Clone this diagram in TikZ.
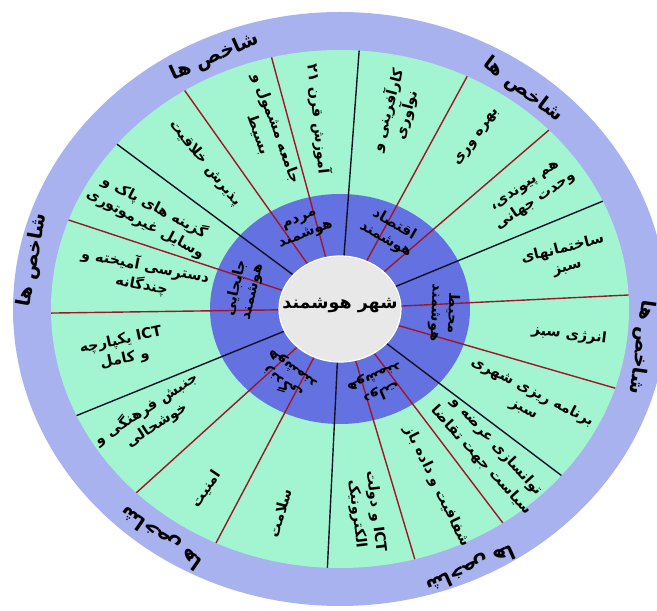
\documentclass[tikz,border=0pt]{standalone}
\usepackage{fontspec}
\usetikzlibrary{calc}
\newfontfamily\fa[Script=Arabic]{DejaVu Sans}
\TeXXeTstate=1
\newcommand\rtl[1]{\beginR#1\endR}
\definecolor{lav}{RGB}{168,178,238}
\definecolor{mint}{RGB}{162,245,208}
\definecolor{blu}{RGB}{100,114,225}
\definecolor{core}{RGB}{232,232,232}
\definecolor{dred}{RGB}{158,22,42}
\definecolor{dblk}{RGB}{18,18,38}
\tikzset{
  spoke/.style={line width=1.4pt},
  sect/.style={font=\fa\bfseries\fontsize{14.5}{19}\selectfont, align=center, inner sep=0pt},
  ringlbl/.style={font=\fa\bfseries\fontsize{14.5}{17}\selectfont, align=center, inner sep=0pt},
  outerlbl/.style={font=\fa\bfseries\fontsize{19.5}{22}\selectfont, inner sep=0pt},
  corelbl/.style={font=\fa\bfseries\fontsize{17.5}{20}\selectfont, inner sep=0pt},
}
\begin{document}
\begin{tikzpicture}[x=1pt,y=1pt]
\useasboundingbox (0,0) rectangle (657,611);
\coordinate (C) at (340,302);
\begin{scope}
  \clip (0,0) rectangle (657,611);
  \fill[lav] (C) ellipse [x radius=327pt, y radius=297pt];
\end{scope}
\fill[mint] (C) ellipse [x radius=289pt, y radius=259pt];
\fill[blu] (C) ellipse [x radius=130pt, y radius=115pt];
\foreach \a/\c [count=\i] in {86.2/dblk,63.9/dred,43.7/dred,24.6/dblk,3.1/dred,-17.8/dred,-40/dblk,-55.7/dred,-75/dred,-92.5/dblk,-115.4/dred,-134.8/dred,-155.7/dblk,-179.1/dred,159.9/dred,140.5/dblk,122.5/dred,103.7/dred}{
  \path (C) ++(\a:289pt and 259pt) coordinate (out\i);
  \path (C) ++(\a:50pt and 44pt) coordinate (in\i);
  \draw[spoke,\c] (in\i) -- (out\i);
}
\fill[core, draw=white, line width=1.2pt] (C) ellipse [x radius=61pt, y radius=53pt];
\node[corelbl] (core) at (340,305) {\rtl{شهر هوشمند}};

% sector texts
\node[sect, rotate=-84] (ta) at ($(C)+(95.8:214pt and 191pt)$) {\rtl{آموزش قرن \beginL۲۱\endL}};
\node[sect, rotate=-70] (tb) at ($(C)+(110:212pt and 189pt)$) {\rtl{جامعه مشمول و}\\\rtl{بسیط}};
\node[sect, rotate=-51] (tc) at ($(C)+(129.5:212pt and 189pt)$) {\rtl{پذیرش خلاقیت}};
\node[sect, rotate=-28] (td) at ($(C)+(151:217pt and 194pt)$) {\rtl{گزینه های پاک و}\\\rtl{وسایل غیرموتوری}};
\node[sect, rotate=-11] (te) at ($(C)+(169:200pt and 178pt)$) {\rtl{دسترسی آمیخته و}\\\rtl{چندگانه}};
\node[sect, rotate=12] (tf) at ($(C)+(191.9:222pt and 198pt)$) {\rtl{\beginL ICT\endL{} یکپارچه}\\\rtl{و کامل}};
\node[sect, rotate=33] (tg) at ($(C)+(212.5:224pt and 200pt)$) {\rtl{جنبش فرهنگی و}\\\rtl{خوشحالی}};
\node[sect, rotate=56] (th) at ($(C)+(236.5:242pt and 216pt)$) {\rtl{امنیت}};
\node[sect, rotate=75] (ti) at ($(C)+(255.3:236pt and 211pt)$) {\rtl{سلامت}};
\node[sect, rotate=-83] (tj) at ($(C)+(-83.5:230pt and 205pt)$) {\rtl{\beginL ICT\endL{} و دولت}\\\rtl{الکترونیک}};
\node[sect, rotate=-64] (tk) at ($(C)+(-64:221pt and 197pt)$) {\rtl{شفافیت و داده باز}};
\node[sect, rotate=-47.5, font=\fa\bfseries\fontsize{14.5}{21}\selectfont] (tl) at ($(C)+(-47.5:220pt and 196pt)$) {\rtl{توانسازی عرضه و}\\\rtl{سیاست جهت تقاضا}};
\node[sect, rotate=-27] (tm) at ($(C)+(-28.5:214pt and 191pt)$) {\rtl{برنامه ریزی شهری}\\\rtl{سبز}};
\node[sect, rotate=-7] (tn) at ($(C)+(-7.2:231pt and 206pt)$) {\rtl{انرژی سبز}};
\node[sect, rotate=14] (to) at ($(C)+(14.2:232pt and 207pt)$) {\rtl{ساختمانهای}\\\rtl{سبز}};
\node[sect, rotate=34] (tp) at ($(C)+(34:230pt and 205pt)$) {\rtl{هم پیوندی،}\\\rtl{وحدت جهانی}};
\node[sect, rotate=54] (tq) at ($(C)+(54.4:236pt and 211pt)$) {\rtl{بهره وری}};
\node[sect, rotate=75] (tr) at ($(C)+(75.5:227pt and 203pt)$) {\rtl{کارآفرینی و}\\\rtl{نوآوری}};

% inner ring labels
\node[ringlbl, rotate=22] (rp) at (303,383) {\rtl{مردم}\\\rtl{هوشمند}};
\node[ringlbl, rotate=-30] (re) at (390,379) {\rtl{اقتصاد}\\\rtl{هوشمند}};
\node[ringlbl, rotate=-92] (rv) at (444,298) {\rtl{محیط}\\\rtl{هوشمند}};
\node[ringlbl, rotate=-156] (rg) at (378,226) {\rtl{دولت}\\\rtl{هوشمند}};
\node[ringlbl, rotate=145] (rl) at (287,234) {\rtl{زندگی}\\\rtl{هوشمند}};
\node[ringlbl, rotate=77] (rm) at (244,321) {\rtl{جابجایی}\\\rtl{هوشمند}};

% outer ring labels
\node[outerlbl, rotate=24] (o1) at (215,554) {\rtl{شاخص ها}};
\node[outerlbl, rotate=-37] (o2) at (523,521) {\rtl{شاخص ها}};
\node[outerlbl, rotate=80] (o3) at (33,351) {\rtl{شاخص ها}};
\node[outerlbl, rotate=-98] (o4) at (641,264) {\rtl{شاخص ها}};
\node[outerlbl, rotate=145] (o5) at (162,74) {\rtl{شاخص ها}};
\node[outerlbl, rotate=-156] (o6) at (470,43) {\rtl{شاخص ها}};
\end{tikzpicture}
\end{document}
